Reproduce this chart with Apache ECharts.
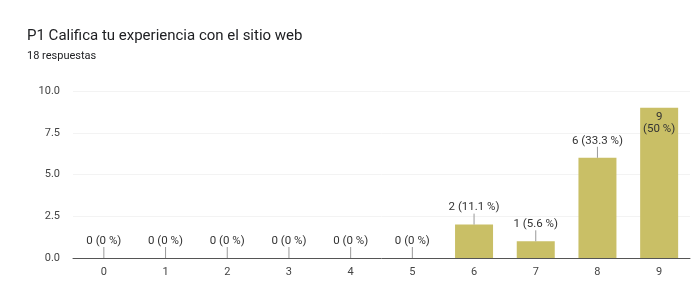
<!DOCTYPE html>
<html>
<head>
<meta charset="utf-8">
<script src="https://cdn.jsdelivr.net/npm/echarts@6/dist/echarts.min.js"></script>
<style>
  html, body { margin: 0; padding: 0; background: #fff; }
  #chart { width: 691px; height: 296px; }
</style>
</head>
<body>
<div id="chart"></div>
<script>
  var categories = ['0', '1', '2', '3', '4', '5', '6', '7', '8', '9'];
  var counts = [0, 0, 0, 0, 0, 0, 2, 1, 6, 9];
  var percents = ['0 %', '0 %', '0 %', '0 %', '0 %', '0 %', '11.1 %', '5.6 %', '33.3 %', '50 %'];
  var yTicks = [0, 2.5, 5, 7.5, 10];

  var myChart = echarts.init(document.getElementById('chart'));

  var barData = counts.map(function (v, i) {
    var item = { value: v };
    if (i === counts.length - 1) {
      // la barra más alta lleva la etiqueta dentro
      item.label = {
        position: 'insideTop',
        distance: 3,
        formatter: v + '\n(' + percents[i] + ')',
        lineHeight: 12
      };
    }
    return item;
  });

  myChart.setOption({
    animation: false,
    title: [
      {
        text: 'P1 Califica tu experiencia con el sitio web',
        left: 22,
        top: 24,
        textStyle: { fontFamily: 'Roboto', fontSize: 15, fontWeight: 'normal', color: '#202124' }
      },
      {
        text: '18 respuestas',
        left: 22,
        top: 46,
        textStyle: { fontFamily: 'Roboto', fontSize: 11, fontWeight: 'normal', color: '#202124' }
      }
    ],
    grid: { left: 73, right: 1, top: 91, bottom: 38 },
    xAxis: {
      type: 'category',
      data: categories,
      axisLine: { lineStyle: { color: '#555', width: 1 } },
      axisTick: { show: false },
      axisLabel: { color: '#444', fontFamily: 'Roboto', fontSize: 11, margin: 9 }
    },
    yAxis: {
      type: 'value',
      min: yTicks[0],
      max: yTicks[yTicks.length - 1],
      interval: 2.5,
      axisLine: { show: false },
      axisTick: { show: false },
      splitLine: { lineStyle: { color: '#f3f3f3' } },
      axisLabel: {
        color: '#444', fontFamily: 'Roboto', fontSize: 11, margin: 13,
        formatter: function (v) { return v.toFixed(1); }
      }
    },
    series: [
      {
        type: 'bar',
        data: barData,
        barWidth: 38,
        itemStyle: { color: '#c9bf66' },
        label: {
          show: true,
          position: 'top',
          distance: 11,
          color: '#333',
          fontFamily: 'Roboto',
          fontSize: 11.5,
          formatter: function (p) { return p.value + ' (' + percents[p.dataIndex] + ')'; }
        }
      },
      {
        // líneas guía cortas entre la barra y su etiqueta
        type: 'custom',
        data: counts.map(function (v, i) { return [i, v]; }),
        silent: true,
        z: 5,
        renderItem: function (params, api) {
          if (params.dataIndex === counts.length - 1) return null;
          var p = api.coord([api.value(0), api.value(1)]);
          return {
            type: 'line',
            shape: { x1: p[0], y1: p[1], x2: p[0], y2: p[1] - 11 },
            style: { stroke: '#999', lineWidth: 1 }
          };
        }
      }
    ]
  });
</script>
</body>
</html>
